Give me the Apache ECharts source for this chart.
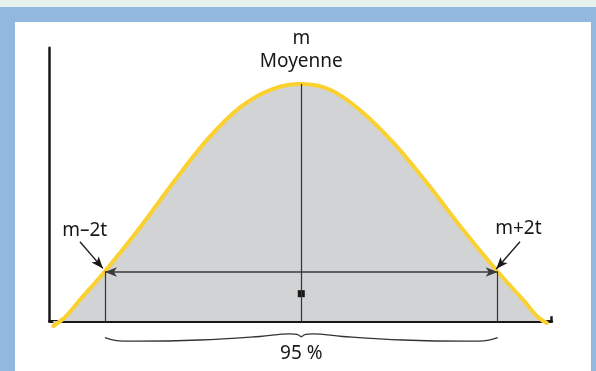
<!DOCTYPE html>
<html><head><meta charset="utf-8">
<script src="https://cdn.jsdelivr.net/npm/echarts@6/dist/echarts.min.js"></script>
<style>
html,body{margin:0;padding:0;width:596px;height:371px;overflow:hidden;background:#93b8e0;}
#strip{position:absolute;left:0;top:0;width:596px;height:7px;background:#e4f2eb;}
#panel{position:absolute;left:15px;top:22px;width:576px;height:349px;background:#fff;}
#chart{position:absolute;left:0;top:0;width:596px;height:371px;}
</style></head><body>
<div id="strip"></div><div id="panel"></div><div id="chart"></div>
<script>
// Normal curve, x in units of t (mean m = 0), y
const curveX = [-2.525, -2.40, -2.27, -2.0, -1.64, -1.3, -0.96, -0.62, -0.3, 0, 0.3, 0.62, 0.96, 1.3, 1.64, 2.0, 2.27, 2.40, 2.50];
const curveY = [-0.0084, 0.0072, 0.0325, 0.0835, 0.158, 0.234, 0.305, 0.360, 0.390, 0.399, 0.389, 0.352, 0.296, 0.228, 0.155, 0.083, 0.0335, 0.008, -0.0034];
// marked points
const lowX = -2.0, lowY = 0.0835;
const highX = 2.0, highY = 0.083;
const meanX = 0, meanY = 0.399;
const squarePt = [0, 0.046];
// brace below the axis (left and right halves)
const braceLX = [-2.0, -1.897, -1.694, -1.032, -0.421, -0.115, -0.044, 0];
const braceLY = [-0.0281, -0.0325, -0.034, -0.032, -0.0261, -0.0216, -0.0225, -0.027];
const braceRX = [0, 0.044, 0.115, 0.421, 1.032, 1.694, 1.897, 2.0];
const braceRY = [-0.027, -0.0225, -0.0216, -0.0261, -0.032, -0.034, -0.0325, -0.0281];
// texts
const labelTexts = ['m', 'Moyenne', 'm–2t', 'm+2t', '95 %'];
const labelX = [0, 0, -2.206, 2.21, 0];
const labelY = [0.4754, 0.4373, 0.1527, 0.155, -0.0551];
// label arrows: start -> tip
const arrowL = [[-2.254, 0.1335], [-2.02, 0.0885]];
const arrowR = [[2.227, 0.1335], [1.985, 0.0875]];
// axis end tick
const endTick = [[2.545, 0], [2.545, 0.008]];

const zip = (xs, ys) => xs.map((x, i) => [x, ys[i]]);
const INK = '#1a1718';
const FONT = 'Noto Sans';
const SMOOTH = 0.3;

const chart = echarts.init(document.getElementById('chart'), null, {renderer: 'canvas'});
const seg = (a, b, s1, s2, extra) => [Object.assign({coord: a, symbol: s1}, extra || {}), {coord: b, symbol: s2}];

chart.setOption({
  animation: false,
  grid: {left: 49.5, right: 44.3, top: 47.8, bottom: 50},
  xAxis: {type: 'value', min: -2.564, max: 2.55,
    axisLine: {show: true, onZero: true, lineStyle: {color: INK, width: 3}},
    axisTick: {show: false}, axisLabel: {show: false}, splitLine: {show: false}},
  yAxis: {type: 'value', min: 0, max: 0.46,
    axisLine: {show: true, onZero: false, lineStyle: {color: INK, width: 2.5}},
    axisTick: {show: false}, axisLabel: {show: false}, splitLine: {show: false}},
  series: [
    {type: 'line', name: 'fill', data: zip(curveX, curveY), smooth: SMOOTH, symbol: 'none', clip: false,
      lineStyle: {width: 0}, areaStyle: {color: '#d1d3d5', opacity: 1}, z: 1, silent: true},
    {type: 'scatter', name: 'guides', data: [squarePt], symbol: 'rect', symbolSize: 7,
      itemStyle: {color: INK, opacity: 1}, z: 2, silent: true,
      markLine: {silent: true, animation: false, label: {show: false},
        lineStyle: {color: '#333', width: 1.2, type: 'solid'}, symbolSize: [7, 12],
        data: [
          seg([lowX, 0], [lowX, lowY], 'none', 'none'),
          seg([meanX, 0], [meanX, meanY], 'none', 'none'),
          seg([highX, 0], [highX, highY], 'none', 'none'),
          seg([lowX, 0.0825], [highX, 0.0825], 'arrow', 'arrow', {lineStyle: {width: 1.6, color: '#3a3a3a'}}),
          seg(arrowL[0], arrowL[1], 'none', 'arrow', {lineStyle: {width: 1.3, color: INK}}),
          seg(arrowR[0], arrowR[1], 'none', 'arrow', {lineStyle: {width: 1.3, color: INK}}),
          seg(endTick[0], endTick[1], 'none', 'none', {lineStyle: {width: 2.5, color: INK}})
        ]}},
    {type: 'line', name: 'curve', data: zip(curveX, curveY), smooth: SMOOTH, symbol: 'none', clip: false,
      lineStyle: {color: '#fbd130', width: 4, cap: 'round', join: 'round'}, z: 3, silent: true},
    {type: 'line', name: 'braceL', data: zip(braceLX, braceLY), smooth: 0.4, symbol: 'none', clip: false,
      lineStyle: {color: '#333', width: 1.3}, z: 3, silent: true},
    {type: 'line', name: 'braceR', data: zip(braceRX, braceRY), smooth: 0.4, symbol: 'none', clip: false,
      lineStyle: {color: '#333', width: 1.3}, z: 3, silent: true},
    {type: 'scatter', name: 'labels', symbolSize: 0, clip: false, z: 4, silent: true,
      itemStyle: {opacity: 1},
      data: labelTexts.map((t, i) => ({value: [labelX[i], labelY[i]], name: t})),
      label: {show: true, position: 'inside', formatter: p => p.name,
        fontFamily: FONT, fontSize: 19, color: INK, align: 'center', verticalAlign: 'middle',
        textBorderWidth: 0}}
  ]
});
</script></body></html>
